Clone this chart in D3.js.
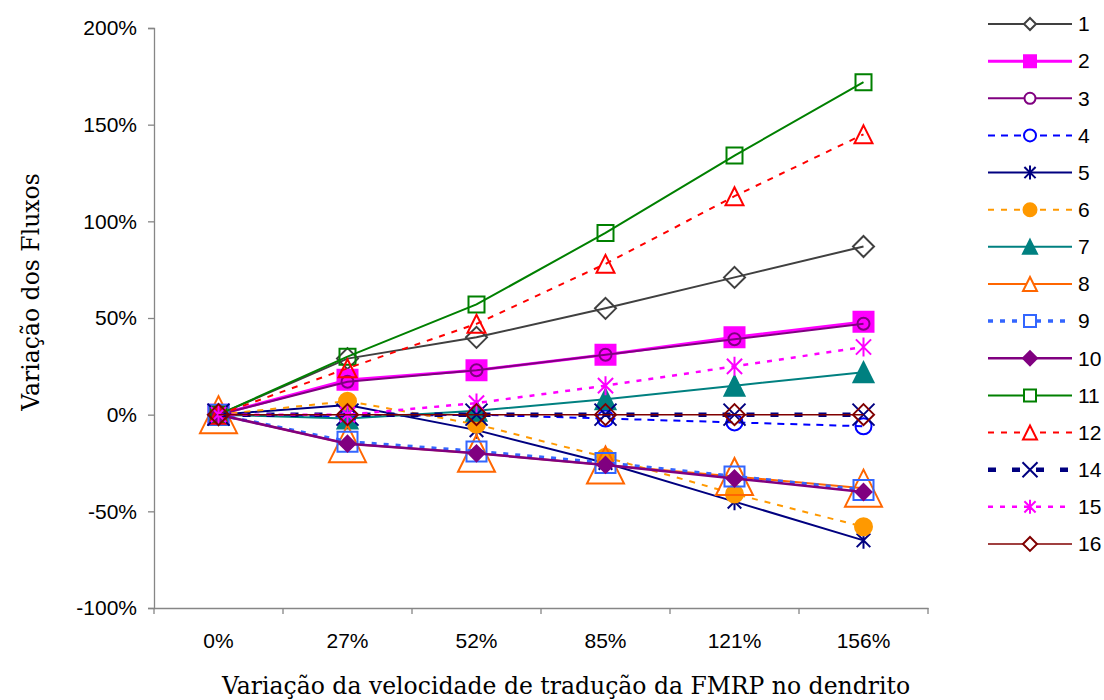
<!DOCTYPE html>
<html><head><meta charset="utf-8">
<script src="https://cdn.jsdelivr.net/npm/d3@7"></script>
<style>body{margin:0;background:#fff}</style>
</head><body><svg id="c" width="1104" height="700"></svg>
<script>
const categories = ["0%", "27%", "52%", "85%", "121%", "156%"];
const yTicks = [-100, -50, 0, 50, 100, 150, 200];
const seriesNames = ["1","2","3","4","5","6","7","8","9","10","11","12","14","15","16"];
const v1  = [0, 29, 40, 55, 71, 87];
const v2  = [0, 18, 23, 31, 40, 48];
const v3  = [0, 17, 23, 31, 39, 47];
const v4  = [0, -1, 0, -2, -4, -6];
const v5  = [0, 5, -8, -25, -45, -65];
const v6  = [0, 7, -5, -22, -41, -58];
const v7  = [0, -2, 2, 8, 15, 22];
const v8  = [0, -15, -20, -26, -32, -38];
const v9  = [0, -14, -19, -25, -32, -39];
const v10 = [0, -15, -20, -26, -33, -40];
const v11 = [0, 30, 57, 94, 134, 172];
const v12 = [0, 24, 47, 78, 113, 145];
const v14 = [0, 0, 0, 0, 0, 0];
const v15 = [0, 0, 6, 15, 25, 35];
const v16 = [0, 0, 0, 0, 0, 0];
const seriesValues = [v1,v2,v3,v4,v5,v6,v7,v8,v9,v10,v11,v12,v14,v15,v16];

// styles (separate from data)
const styles = {
  "1":  {c:"#404040", w:2,   dash:null,   m:"diamond",  fill:"none",    ms:10.5, ls:6},
  "2":  {c:"#FF00FF", w:3,   dash:null,   m:"square",   fill:"#FF00FF", ms:10,   ls:6},
  "3":  {c:"#800080", w:2,   dash:null,   m:"circle",   fill:"none",    ms:6,    ls:5.5},
  "4":  {c:"#0000FF", w:2,   dash:"7,6",  m:"circle",   fill:"none",    ms:8,    ls:6},
  "5":  {c:"#000080", w:2,   dash:null,   m:"asterisk", fill:"none",    ms:8.5,  ls:7},
  "6":  {c:"#FF9900", w:2,   dash:"6,7",  m:"dot",      fill:"#FF9900", ms:8.5,  ls:6.5},
  "7":  {c:"#008080", w:2,   dash:null,   m:"triangle", fill:"#008080", ms:10,   ls:7},
  "8":  {c:"#FF6600", w:2,   dash:null,   m:"triangle", fill:"none",    ms:18.5, ls:7},
  "9":  {c:"#3366FF", w:3.5, dash:"5,7",  m:"square",   fill:"none",    ms:10,   ls:6},
  "10": {c:"#800080", w:2.5, dash:null,   m:"diamond",  fill:"#800080", ms:8,    ls:7},
  "11": {c:"#008000", w:2,   dash:null,   m:"square",   fill:"none",    ms:8,    ls:6},
  "12": {c:"#FF0000", w:2,   dash:"6,7",  m:"triangle", fill:"none",    ms:9,    ls:7},
  "14": {c:"#000080", w:4.5, dash:"8,16", m:"x",        fill:"none",    ms:11,   ls:7.5},
  "15": {c:"#FF00FF", w:2.5, dash:"5,7",  m:"asterisk", fill:"none",    ms:9.5,  ls:7},
  "16": {c:"#800000", w:1.5, dash:null,   m:"diamond",  fill:"none",    ms:10.5, ls:7}
};

function markerPath(type, s) {
  switch (type) {
    case "diamond": return `M0,${-s}L${s},0L0,${s}L${-s},0Z`;
    case "square": return `M${-s},${-s}H${s}V${s}H${-s}Z`;
    case "circle":
    case "dot": return `M${s},0A${s},${s} 0 1,1 ${-s},0A${s},${s} 0 1,1 ${s},0Z`;
    case "triangle": return `M0,${-s}L${s},${s}L${-s},${s}Z`;
    case "x": return `M${-s},${-s}L${s},${s}M${-s},${s}L${s},${-s}`;
    case "asterisk": return `M${-s*0.8},${-s*0.8}L${s*0.8},${s*0.8}M${-s*0.8},${s*0.8}L${s*0.8},${-s*0.8}M0,${-s}L0,${s}`;
  }
}

const svg = d3.select("#c");
const x = d3.scaleBand().domain(categories).range([154, 928]);
const cx = c => x(c) + x.bandwidth() / 2;
const y = d3.scaleLinear().domain([-100, 200]).range([608, 28]);
const axisColor = "#868686";
const sans = "Liberation Sans, Arial, sans-serif";

// Y axis
const gy = svg.append("g").attr("transform", "translate(154,0)")
  .call(d3.axisLeft(y).tickValues(yTicks).tickFormat(d => d + "%").tickSize(6).tickPadding(11));
gy.select(".domain").attr("stroke", axisColor).attr("stroke-width", 1.3);
gy.selectAll(".tick line").attr("stroke", axisColor).attr("stroke-width", 1.3);
gy.selectAll(".tick text").attr("font-family", sans).attr("font-size", 21).attr("fill", "#000");

// X axis
const gx = svg.append("g").attr("transform", "translate(0,608)")
  .call(d3.axisBottom(x).tickSize(0).tickPadding(25));
gx.select(".domain").attr("stroke", axisColor).attr("stroke-width", 1.3);
gx.selectAll(".tick text").attr("font-family", sans).attr("font-size", 21).attr("fill", "#000");
const bounds = categories.map(c => x(c)).concat([x.range()[1]]);
gx.selectAll("line.bt").data(bounds).enter().append("line").attr("class", "bt")
  .attr("x1", d => d).attr("x2", d => d).attr("y1", 0).attr("y2", 6)
  .attr("stroke", axisColor).attr("stroke-width", 1.3);

// Titles
svg.append("text").attr("x", 222).attr("y", 694).attr("text-anchor", "start")
  .attr("font-family", "DejaVu Serif, serif").attr("font-size", 23.5)
  .text("Variação da velocidade de tradução da FMRP no dendrito");
svg.append("text").attr("transform", "translate(39,292) rotate(-90)").attr("text-anchor", "middle")
  .attr("font-family", "DejaVu Serif, serif").attr("font-size", 23.5)
  .text("Variação dos Fluxos");

// Series
const line = d3.line().x((d, i) => cx(categories[i])).y(d => y(d));
seriesNames.forEach((name, k) => {
  const st = styles[name];
  const vals = seriesValues[k];
  const g = svg.append("g");
  g.append("path").attr("d", line(vals)).attr("fill", "none")
    .attr("stroke", st.c).attr("stroke-width", st.w)
    .attr("stroke-dasharray", st.dash);
  g.selectAll("path.m").data(vals).enter().append("path").attr("class", "m")
    .attr("transform", (d, i) => `translate(${cx(categories[i])},${y(d)})`)
    .attr("d", markerPath(st.m, st.ms))
    .attr("fill", st.fill).attr("stroke", st.c).attr("stroke-width", 2);
});

// Legend
const lg = svg.append("g");
const ly = d3.scalePoint().domain(seriesNames).range([24, 24 + 37.14 * (seriesNames.length - 1)]);
seriesNames.forEach(name => {
  const st = styles[name];
  const yy = ly(name);
  lg.append("line").attr("x1", 988).attr("x2", 1072).attr("y1", yy).attr("y2", yy)
    .attr("stroke", st.c).attr("stroke-width", st.w).attr("stroke-dasharray", st.dash);
  lg.append("path").attr("transform", `translate(1030,${yy})`).attr("d", markerPath(st.m, st.ls))
    .attr("fill", st.fill === "none" ? "#fff" : st.fill).attr("stroke", st.c).attr("stroke-width", 2);
  lg.append("text").attr("x", 1078).attr("y", yy).attr("dy", "0.35em")
    .attr("font-family", sans).attr("font-size", 21).text(name);
});
</script></body></html>
